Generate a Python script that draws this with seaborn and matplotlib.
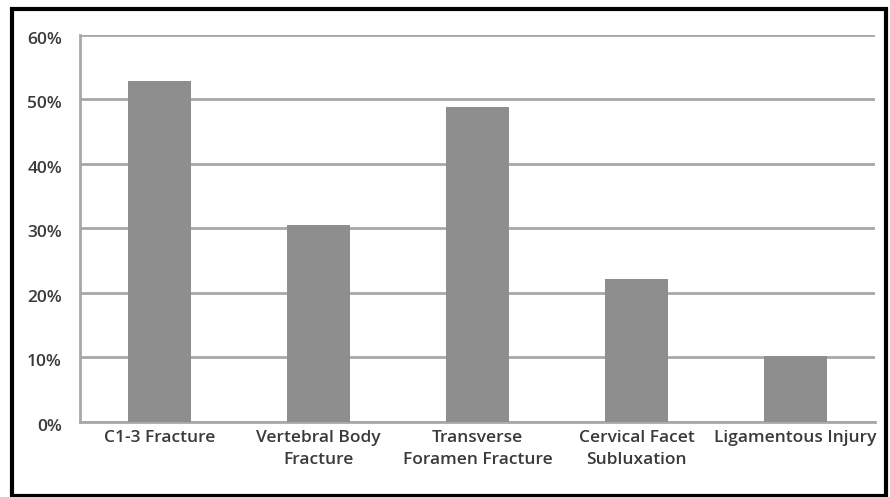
import matplotlib
matplotlib.use("Agg")
import matplotlib.pyplot as plt
import matplotlib.transforms as mtransforms
from matplotlib.patches import Rectangle
import numpy as np
import pandas as pd
import seaborn as sns

categories = ["C1-3 Fracture", "Vertebral Body\nFracture", "Transverse\nForamen Fracture",
              "Cervical Facet\nSubluxation", "Ligamentous Injury"]
values = [52.8, 30.6, 48.8, 22.2, 10.2]
yticks = [0, 10, 20, 30, 40, 50, 60]
ytick_labels = ["0%", "10%", "20%", "30%", "40%", "50%", "60%"]

df = pd.DataFrame({"injury": categories, "pct": values})

sns.set_style("white")
plt.rcParams["font.family"] = ["Open Sans", "DejaVu Sans"]

fig = plt.figure(figsize=(8.9, 4.97), dpi=100)
ax = fig.add_axes([0.0899, 0.151, 0.8933, 0.7786])

sns.barplot(data=df, x="injury", y="pct", color="#8e8e8e", saturation=1,
            width=0.4, ax=ax, zorder=3, edgecolor="none", linewidth=0)

ax.set_ylim(0, 60)
ax.set_xlim(-0.5, 4.5)
ax.set_yticks(yticks)
ax.set_yticklabels(ytick_labels)
ax.yaxis.grid(True, color="#a8a8a8", linewidth=2)
ax.set_axisbelow(True)
ax.set_xlabel("")
ax.set_ylabel("")
ax.tick_params(axis="y", length=0, pad=13, labelsize=12.5, labelcolor="#3a3a3a")
ax.tick_params(axis="x", length=0, pad=6, labelsize=12.5, labelcolor="#3a3a3a")

shift = mtransforms.ScaledTranslation(0, -3 / 100, fig.dpi_scale_trans)
for lab in ax.get_yticklabels():
    lab.set_fontweight("semibold")
    lab.set_transform(lab.get_transform() + shift)
for lab in ax.get_xticklabels():
    lab.set_fontweight("semibold")
    lab.set_linespacing(1.5)

for side in ["top", "right"]:
    ax.spines[side].set_visible(False)
for side in ["left", "bottom"]:
    ax.spines[side].set_color("#a8a8a8")
    ax.spines[side].set_linewidth(2)

fig.patches.append(Rectangle((12 / 890, 1.5 / 497), 874 / 890, 486.5 / 497,
                             transform=fig.transFigure, fill=False,
                             edgecolor="black", linewidth=3))

fig.savefig("out.png", dpi=100)
